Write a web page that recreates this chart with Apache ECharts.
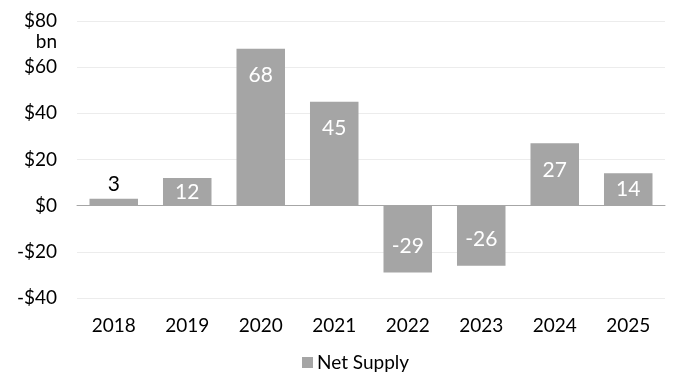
<!DOCTYPE html>
<html>
<head>
<meta charset="utf-8">
<script src="https://cdn.jsdelivr.net/npm/echarts@6/dist/echarts.min.js"></script>
<style>
  html, body { margin: 0; padding: 0; background: #fff; }
  #chart { width: 673px; height: 372px; }
</style>
</head>
<body>
<div id="chart"></div>
<script>
// Annual net supply, $ billions
const years = ['2018', '2019', '2020', '2021', '2022', '2023', '2024', '2025'];
const netSupply = [3, 12, 68, 45, -29, -26, 27, 14];
const yTicks = { min: -40, max: 80, interval: 20 };

const FONT = 'Lato, "Open Sans", sans-serif';
const BAR_COLOR = '#a5a5a5';

// Value labels: small bars get the label above, medium bars centred,
// tall bars near the bar end.
function labelFor(v) {
  const base = { show: true, fontFamily: FONT, fontSize: 21, color: '#fff' };
  if (Math.abs(v) < 6) {
    return Object.assign(base, { position: 'top', color: '#000', distance: 4 });
  }
  if (Math.abs(v) < 20) {
    return Object.assign(base, { position: 'inside' });
  }
  return Object.assign(base, {
    position: v > 0 ? 'insideTop' : 'insideBottom',
    distance: 16
  });
}

const barData = netSupply.map(v => ({ value: v, label: labelFor(v) }));

const chart = echarts.init(document.getElementById('chart'), null, { renderer: 'canvas' });
chart.setOption({
  animation: false,
  textStyle: { fontFamily: FONT },
  grid: { left: 77, right: 8, top: 21, bottom: 74, containLabel: false },
  legend: {
    top: 348,
    left: 297,
    itemWidth: 11,
    itemHeight: 11,
    icon: 'rect',
    itemGap: 6,
    textStyle: { fontFamily: FONT, fontSize: 19, color: '#000', padding: [0, 0, 0, -1] },
    data: ['Net Supply']
  },
  xAxis: {
    type: 'category',
    data: years,
    axisLine: { show: true, onZero: true, lineStyle: { color: '#a6a6a6', width: 1 } },
    axisTick: { show: false },
    axisLabel: {
      fontFamily: FONT, fontSize: 19, color: '#000',
      interval: 0, margin: 18
    },
    position: 'bottom'
  },
  yAxis: {
    type: 'value',
    min: yTicks.min,
    max: yTicks.max,
    interval: yTicks.interval,
    name: 'bn',
    nameLocation: 'end',
    nameGap: -11,
    nameTextStyle: {
      fontFamily: FONT, fontSize: 19, color: '#000',
      align: 'right', verticalAlign: 'top', padding: [0, 20, 0, 0]
    },
    axisLine: { show: false },
    axisTick: { show: false },
    splitLine: { lineStyle: { color: '#ececec', width: 1 } },
    axisLabel: {
      fontFamily: FONT, fontSize: 19, color: '#000', margin: 20,
      formatter: v => (v < 0 ? '-$' : '$') + Math.abs(v)
    }
  },
  series: [{
    name: 'Net Supply',
    type: 'bar',
    data: barData,
    barCategoryGap: '34%',
    itemStyle: { color: BAR_COLOR }
  }]
});
</script>
</body>
</html>
